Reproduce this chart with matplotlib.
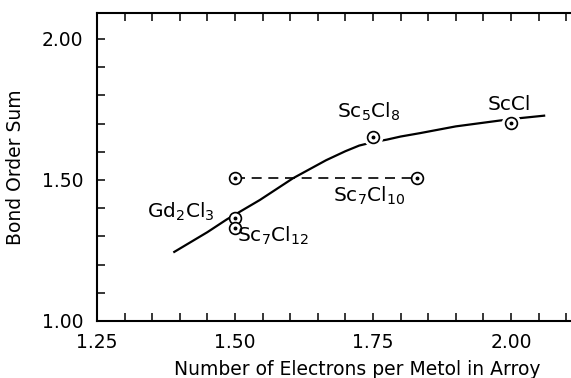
import numpy as np
import matplotlib
matplotlib.use("Agg")
import matplotlib.pyplot as plt
from matplotlib.ticker import MultipleLocator, FormatStrFormatter

# data
curve_x = [1.39, 1.45, 1.485, 1.545, 1.605, 1.665, 1.70, 1.725, 1.75, 1.775, 1.80, 1.835, 1.90, 1.95, 2.00, 2.06]
curve_y = [1.245, 1.315, 1.36, 1.429, 1.506, 1.57, 1.602, 1.622, 1.634, 1.643, 1.654, 1.666, 1.69, 1.703, 1.716, 1.728]

pts_x = [1.50, 1.50, 1.75, 2.00]
pts_y = [1.366, 1.329, 1.651, 1.701]
dash_x = [1.50, 1.83]
dash_y = [1.508, 1.508]

labels = [r'Gd$_2$Cl$_3$', r'Sc$_7$Cl$_{12}$', r'Sc$_5$Cl$_8$', 'ScCl', r'Sc$_7$Cl$_{10}$']
label_x = [1.341, 1.504, 1.685, 1.958, 1.678]
label_y = [1.365, 1.281, 1.720, 1.748, 1.423]

plt.rcParams['font.family'] = ['DejaVu Sans']
plt.rcParams['mathtext.fontset'] = 'dejavusans'

fig = plt.figure(figsize=(5.71, 3.78), dpi=100)
W, H = 571, 378
ax = fig.add_axes([97 / W, (H - 321) / H, (2.15 - 1.25) / 0.25 * 138 / W, 308 / H])
ax.set_xlim(1.25, 2.15)
ax.set_ylim(1.00, 2.092)

ax.plot(curve_x, curve_y, color='black', lw=1.6, zorder=2)
ax.plot(dash_x, dash_y, color='black', lw=1.2, dashes=(6, 4), zorder=2)

# white halo so the curve breaks round the upper two circles
ax.plot(pts_x[2:], pts_y[2:], marker='o', ms=13, color='white', ls='none', zorder=2.5)
mk = dict(marker='o', ms=8.5, mfc='white', mec='black', mew=1.2, ls='none', zorder=3)
ax.plot(pts_x, pts_y, **mk)
ax.plot(dash_x, dash_y, **mk)
ax.plot(pts_x + dash_x, pts_y + dash_y, marker='o', ms=1.8, color='black', ls='none', zorder=4)

for t, x, y in zip(labels, label_x, label_y):
    ax.text(x, y, t, fontsize=14.5, ha='left', va='baseline')

ax.xaxis.set_major_locator(MultipleLocator(0.25))
ax.xaxis.set_minor_locator(MultipleLocator(0.05))
ax.yaxis.set_major_locator(MultipleLocator(0.5))
ax.yaxis.set_minor_locator(MultipleLocator(0.1))
ax.xaxis.set_major_formatter(FormatStrFormatter('%.2f'))
ax.yaxis.set_major_formatter(FormatStrFormatter('%.2f'))
ax.tick_params(which='both', direction='in', top=True, right=False, length=6, width=1.1, labelsize=13.5)
ax.tick_params(axis='x', pad=9)
ax.tick_params(axis='y', pad=10)

for s in ax.spines.values():
    s.set_linewidth(1.5)
ax.spines['right'].set_visible(False)

ax.set_xlabel('Number of Electrons per Metol in Arroy', fontsize=13.5)
ax.set_ylabel('Bond Order Sum', fontsize=13.5)
ax.xaxis.set_label_coords(0.523, -0.128)
ax.yaxis.set_label_coords(-0.145, 0.5)

fig.savefig('out.png', dpi=100)
